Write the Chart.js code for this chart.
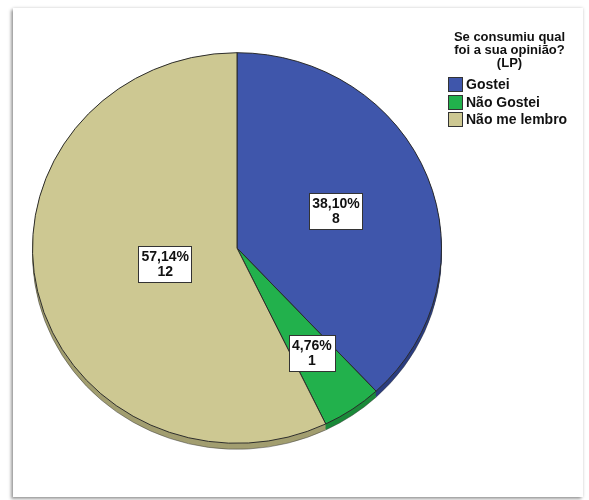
<!DOCTYPE html>
<html>
<head>
<meta charset="utf-8">
<script src="https://cdn.jsdelivr.net/npm/chart.js@4.4.1/dist/chart.umd.min.js"></script>
<style>
  html, body { margin: 0; padding: 0; background: #ffffff; }
  #wrap { position: relative; width: 589px; height: 500px; overflow: hidden; background: #ffffff; }
  #frame {
    position: absolute; left: 13px; top: 8px; width: 570px; height: 489px;
    background: #ffffff;
    box-shadow: -2px 2px 3px rgba(0,0,0,0.35), 0 0 3px rgba(0,0,0,0.18);
  }
  #chart { position: absolute; left: 0; top: 0; }
  #legend {
    position: absolute; left: 446px; top: 30px; width: 125px;
    font-family: "Liberation Sans", Arial, sans-serif; font-weight: bold; color: #111;
  }
  #legend .title { font-size: 13px; line-height: 13px; text-align: center; margin-left: 2px; }
  #legend .item { display: flex; align-items: center; font-size: 14px; line-height: 17.5px; height: 17.5px; }
  #legend .sw { width: 13px; height: 13px; border: 1px solid #333; margin-right: 3px; margin-left: 2px; }
</style>
</head>
<body>
<div id="wrap">
  <div id="frame"></div>
  <canvas id="chart" width="589" height="500"></canvas>
  <div id="legend"></div>
</div>
<script>
// Answers and respondent counts
const legendTitle = ["Se consumiu qual", "foi a sua opinião?", "(LP)"];
const categories = ["Gostei", "Não Gostei", "Não me lembro"];
const counts = [8, 1, 12];
const faceColors = ["#3f56ab", "#22b14c", "#cdc892"];
const sideColors = ["#2b3d80", "#1b8a3a", "#a29e70"];
// How far out along each slice its value box sits (fraction of radius)
const labelRadius = [0.52, 0.65, 0.36];

const tiltY = 0.955;    // vertical squash of the pie face
const depth = 6;        // thickness of the pie's side wall

// Legend (HTML text)
const legendEl = document.getElementById('legend');
legendEl.innerHTML = '<div class="title">' + legendTitle.join('<br>') + '</div><div style="height:7px"></div>' +
  categories.map((c, i) => '<div class="item"><span class="sw" style="background:' + faceColors[i] + '"></span>' + c + '</div>').join('');

function arcGeom(chart) {
  const meta = chart.getDatasetMeta(0);
  return meta.data.map(a => a.getProps(['x', 'y', 'startAngle', 'endAngle', 'outerRadius'], true));
}

const tiltPlugin = {
  id: 'tilt3d',
  beforeDatasetsDraw(chart) {
    const ctx = chart.ctx;
    const arcs = arcGeom(chart);
    if (!arcs.length) return;
    const cx = arcs[0].x, cy = arcs[0].y;
    ctx.save();
    ctx.translate(cx, cy);
    ctx.scale(1, tiltY);
    ctx.translate(-cx, -cy);
    // side wall: the same slices drawn lower, in darker shades
    const dy = depth / tiltY;
    arcs.forEach((a, i) => {
      for (let k = dy; k >= 0; k -= 1) {
        ctx.beginPath();
        ctx.moveTo(a.x, a.y + k);
        ctx.arc(a.x, a.y + k, a.outerRadius, a.startAngle, a.endAngle);
        ctx.closePath();
        ctx.fillStyle = sideColors[i];
        ctx.fill();
      }
      ctx.beginPath();
      ctx.arc(a.x, a.y + dy, a.outerRadius, a.startAngle, a.endAngle);
      ctx.strokeStyle = 'rgba(60,60,60,0.5)';
      ctx.lineWidth = 1;
      ctx.stroke();
    });
  },
  afterDatasetsDraw(chart) {
    const ctx = chart.ctx;
    ctx.restore();
    const arcs = arcGeom(chart);
    const total = counts.reduce((s, v) => s + v, 0);
    ctx.save();
    ctx.font = 'bold 14px "Liberation Sans", Arial, sans-serif';
    ctx.textAlign = 'center';
    ctx.textBaseline = 'middle';
    arcs.forEach((a, i) => {
      const mid = (a.startAngle + a.endAngle) / 2;
      const r = a.outerRadius * labelRadius[i];
      const x = a.x + Math.cos(mid) * r;
      const y = a.y + Math.sin(mid) * r * tiltY;
      const l1 = (counts[i] / total * 100).toFixed(2).replace('.', ',') + '%';
      const l2 = String(counts[i]);
      const w = Math.max(ctx.measureText(l1).width, ctx.measureText(l2).width) + 6;
      const h = 36;
      const bx = Math.round(x - w / 2) + 0.5, by = Math.round(y - h / 2) + 0.5;
      ctx.fillStyle = '#ffffff';
      ctx.fillRect(bx, by, Math.round(w), h);
      ctx.strokeStyle = '#333333';
      ctx.lineWidth = 1;
      ctx.strokeRect(bx, by, Math.round(w), h);
      ctx.fillStyle = '#111111';
      ctx.fillText(l1, x, by + 11);
      ctx.fillText(l2, x, by + 26);
    });
    ctx.restore();
  }
};

new Chart(document.getElementById('chart'), {
  type: 'pie',
  data: {
    labels: categories,
    datasets: [{
      data: counts,
      backgroundColor: faceColors,
      borderColor: '#2a2a2a',
      borderWidth: 1,
      clip: false
    }]
  },
  options: {
    responsive: false,
    animation: false,
    events: [],
    layout: { padding: { left: 32, right: 147, top: 43, bottom: 47 } },
    plugins: {
      legend: { display: false },
      tooltip: { enabled: false }
    }
  },
  plugins: [tiltPlugin]
});
</script>
</body>
</html>
